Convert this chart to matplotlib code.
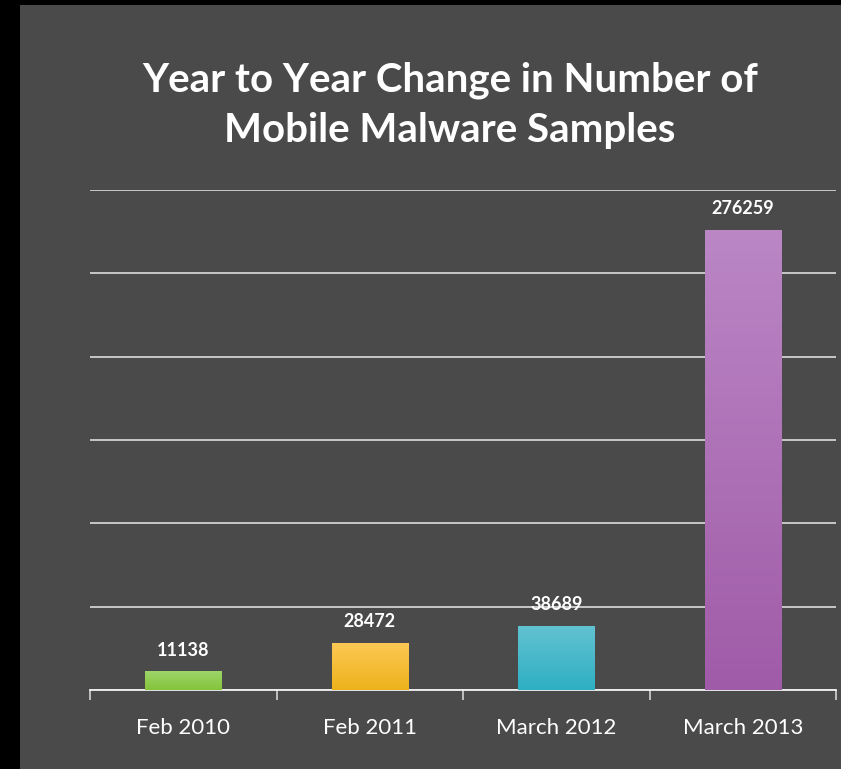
import numpy as np
import matplotlib
matplotlib.use("Agg")
import matplotlib.pyplot as plt
from matplotlib.colors import LinearSegmentedColormap
from matplotlib.patches import Rectangle

categories = ["Feb 2010", "Feb 2011", "March 2012", "March 2013"]
samples = [11138, 28472, 38689, 276259]
# (top, bottom) colours of each bar's vertical gradient
bar_colors = [("#9dd56a", "#84c43a"),
              ("#fdc955", "#edb21b"),
              ("#63c2d1", "#2eb0c3"),
              ("#bb87c5", "#a05ba8")]
title = "Year to Year Change in Number of\nMobile Malware Samples"

BG = "#4a4a4a"
plt.rcParams["font.family"] = ["Lato", "DejaVu Sans"]

fig = plt.figure(figsize=(8.41, 7.69), dpi=100, facecolor=BG)
# black frame on the left and top edges
fig.patches.append(Rectangle((0, 0), 20 / 841, 1, transform=fig.transFigure,
                             facecolor="black", edgecolor="none", zorder=-1))
fig.patches.append(Rectangle((0, 1 - 5 / 769), 1, 5 / 769, transform=fig.transFigure,
                             facecolor="black", edgecolor="none", zorder=-1))

ax = fig.add_axes([90 / 841, 79 / 769, 746 / 841, 500 / 769])
ax.set_facecolor(BG)

x = np.arange(len(categories))
bars = ax.bar(x, samples, width=0.41, color="none", edgecolor="none", zorder=3)

grad = np.linspace(0, 1, 256).reshape(-1, 1)
for b, (top, bottom) in zip(bars, bar_colors):
    cmap = LinearSegmentedColormap.from_list("g", [bottom, top])
    x0, w, h = b.get_x(), b.get_width(), b.get_height()
    im = ax.imshow(grad, cmap=cmap, aspect="auto", origin="lower",
                   extent=(x0, x0 + w, 0, h), zorder=3)
    im.set_clip_path(b)
    ax.annotate(f"{h:.0f}", (x0 + w / 2, h), xytext=(0, 9), textcoords="offset points",
                ha="center", va="bottom", color="white", fontsize=13, fontweight="bold")

ax.set_xlim(-0.5, len(categories) - 0.5)
ax.set_ylim(0, 300000)
ax.set_yticks(np.arange(0, 300001, 50000))
ax.yaxis.grid(True, color="#dcdcdc", linewidth=1.2)
ax.set_axisbelow(True)
ax.tick_params(axis="y", left=False, labelleft=False)

ax.set_xticks(x)
ax.set_xticklabels(categories, color="white", fontsize=16)
ax.tick_params(axis="x", length=0, pad=20)
ax.set_xticks(np.arange(-0.5, len(categories)), minor=True)
ax.tick_params(axis="x", which="minor", length=7, width=1.1, color="#e0e0e0")

for side in ("top", "right", "left"):
    ax.spines[side].set_visible(False)
ax.spines["bottom"].set_color("#f0f0f0")
ax.spines["bottom"].set_linewidth(1.3)

fig.text(450 / 841, 1 - 105 / 769, title, ha="center", va="center", color="white",
         fontsize=29, fontweight="bold", linespacing=1.42)

fig.savefig("out.png", dpi=100, facecolor=BG)
